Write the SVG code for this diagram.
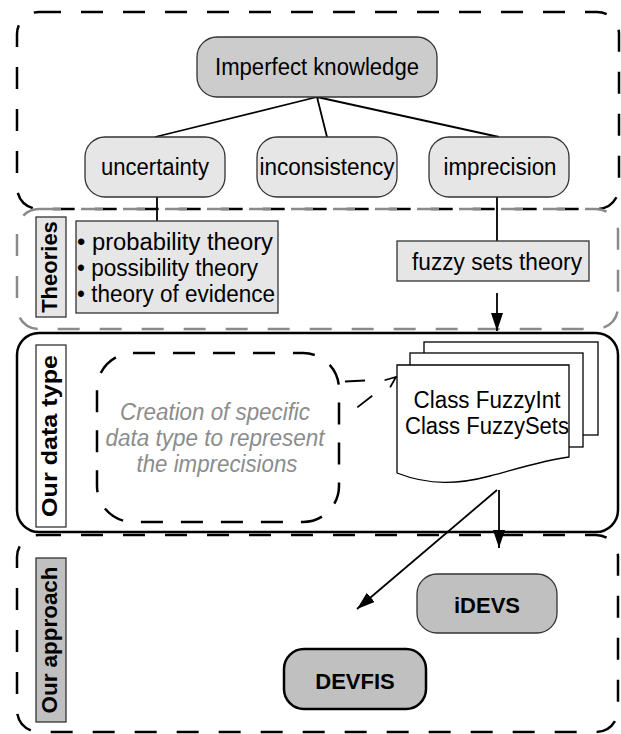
<svg xmlns="http://www.w3.org/2000/svg" width="621" height="734" viewBox="0 0 621 734">
<defs>
<style>
text{font-family:"Liberation Sans",Arial,sans-serif;font-size:23px;fill:#000}
.c{text-anchor:middle}
.b{font-weight:bold;font-size:22px}
.panel{fill:none;stroke-width:2.5}
.blk{stroke:#000}
.dash{stroke-dasharray:22 20}
.gray{stroke:#8a8a8a}
.node{stroke:#333;stroke-width:1.3}
.lt{fill:#e6e6e6}
.md{fill:#cccccc}
.dk{fill:#c0c0c0}
.page{fill:#fff;stroke:#000;stroke-width:1.3}
.conn{fill:none;stroke:#000;stroke-width:1.8}
.it{font-style:italic;fill:#8c8c8c}
</style>
<marker id="ah" markerUnits="userSpaceOnUse" markerWidth="20" markerHeight="14" refX="18" refY="6" orient="auto">
<path d="M0,0 L18,6 L0,12 z" fill="#000"/>
</marker>
<marker id="oh" markerUnits="userSpaceOnUse" markerWidth="14" markerHeight="14" refX="12" refY="6" orient="auto">
<path d="M1,1.5 L12,6 L1,10.5" fill="none" stroke="#000" stroke-width="1.8"/>
</marker>
</defs>

<g id="panels">
<rect id="panel-imperfect" class="panel blk dash" x="17" y="12" width="602" height="197" rx="22"/>
<rect id="panel-theories" class="panel gray dash" x="17" y="209" width="601" height="120" rx="22"/>
<rect id="panel-datatype" class="panel blk" x="17" y="333" width="601" height="199" rx="22" stroke-width="2"/>
<rect id="panel-approach" class="panel blk dash" x="17" y="535" width="601" height="197" rx="22"/>
</g>

<g id="connectors">
<path class="conn" d="M317,97 L155,137 M317,97 L327,137 M317,97 L499,137"/>
<path class="conn" d="M157,197 L157,222 M497,197 L497,241" stroke-width="1.5"/>
<path class="conn" d="M497,293 L497,331" marker-end="url(#ah)" stroke-width="2.5"/>
<path class="conn" d="M499,490 L499,548" marker-end="url(#ah)" stroke-width="2.5"/>
<path class="conn" d="M497,490 L357,609" marker-end="url(#ah)" stroke-width="1.6"/>
<path class="conn" d="M345,381.5 L365,380.5" stroke-width="2"/>
<path class="conn" d="M340,421 L396,377" stroke-dasharray="0 22 19 40" marker-end="url(#oh)" stroke-width="2"/>
</g>

<g id="node-imperfect">
<rect class="node md" x="197" y="37" width="240" height="60" rx="20"/>
<text class="c" x="317" y="75" font-size="24" textLength="204" lengthAdjust="spacingAndGlyphs">Imperfect knowledge</text>
</g>
<g id="node-uncertainty">
<rect class="node lt" x="85" y="137" width="140" height="60" rx="20"/>
<text class="c" x="155" y="175" textLength="108" lengthAdjust="spacingAndGlyphs">uncertainty</text>
</g>
<g id="node-inconsistency">
<rect class="node lt" x="257" y="137" width="140" height="60" rx="20"/>
<text class="c" x="327" y="175" textLength="135" lengthAdjust="spacingAndGlyphs">inconsistency</text>
</g>
<g id="node-imprecision">
<rect class="node lt" x="429" y="137" width="140" height="60" rx="20"/>
<text class="c" x="500" y="175" textLength="113" lengthAdjust="spacingAndGlyphs">imprecision</text>
</g>

<g id="label-theories">
<rect class="node lt" x="36" y="217" width="30" height="100"/>
<text class="b c" transform="translate(57,267) rotate(-90)">Theories</text>
</g>
<g id="node-theories-list">
<rect class="node lt" x="76" y="221" width="202" height="92"/>
<text x="77" y="250" textLength="196" lengthAdjust="spacingAndGlyphs">• probability theory</text>
<text x="77" y="276" textLength="181" lengthAdjust="spacingAndGlyphs">• possibility theory</text>
<text x="77" y="302" textLength="198" lengthAdjust="spacingAndGlyphs">• theory of evidence</text>
</g>
<g id="node-fuzzy">
<rect class="node lt" x="397" y="241" width="192" height="40"/>
<text class="c" x="497" y="270" textLength="170" lengthAdjust="spacingAndGlyphs">fuzzy sets theory</text>
</g>

<g id="label-datatype">
<rect class="node" fill="#fff" x="36" y="345" width="30" height="182"/>
<text class="b c" transform="translate(57,436) rotate(-90)" font-size="24" textLength="162" lengthAdjust="spacingAndGlyphs">Our data type</text>
</g>
<g id="node-creation">
<rect x="97" y="353" width="242" height="169" rx="36" fill="none" stroke="#000" stroke-width="2.5" stroke-dasharray="22 18"/>
<text class="c it" x="215" y="420" textLength="190" lengthAdjust="spacingAndGlyphs">Creation of specific</text>
<text class="c it" x="215" y="446" textLength="219" lengthAdjust="spacingAndGlyphs">data type to represent</text>
<text class="c it" x="217" y="472" textLength="161" lengthAdjust="spacingAndGlyphs">the imprecisions</text>
</g>
<g id="node-classes">
<rect class="page" x="424" y="342" width="174" height="93"/>
<rect class="page" x="410" y="353" width="173" height="94"/>
<path class="page" d="M397,365 L569,365 L569,457 C545,460 520,468 490,476 C460,484 430,486 397,473 Z"/>
<text class="c" x="487" y="408" textLength="147" lengthAdjust="spacingAndGlyphs">Class FuzzyInt</text>
<text class="c" x="487" y="434" textLength="164" lengthAdjust="spacingAndGlyphs">Class FuzzySets</text>
</g>

<g id="label-approach">
<rect class="node dk" x="36" y="558" width="30" height="164"/>
<text class="b c" transform="translate(57,640) rotate(-90)" textLength="147" lengthAdjust="spacingAndGlyphs">Our approach</text>
</g>
<g id="node-idevs">
<rect class="node dk" x="417" y="574" width="140" height="59" rx="20"/>
<text class="b c" x="487" y="613">iDEVS</text>
</g>
<g id="node-devfis">
<rect class="dk" stroke="#000" stroke-width="2.5" x="284" y="649" width="142" height="60" rx="20"/>
<text class="b c" x="355" y="689">DEVFIS</text>
</g>
</svg>
